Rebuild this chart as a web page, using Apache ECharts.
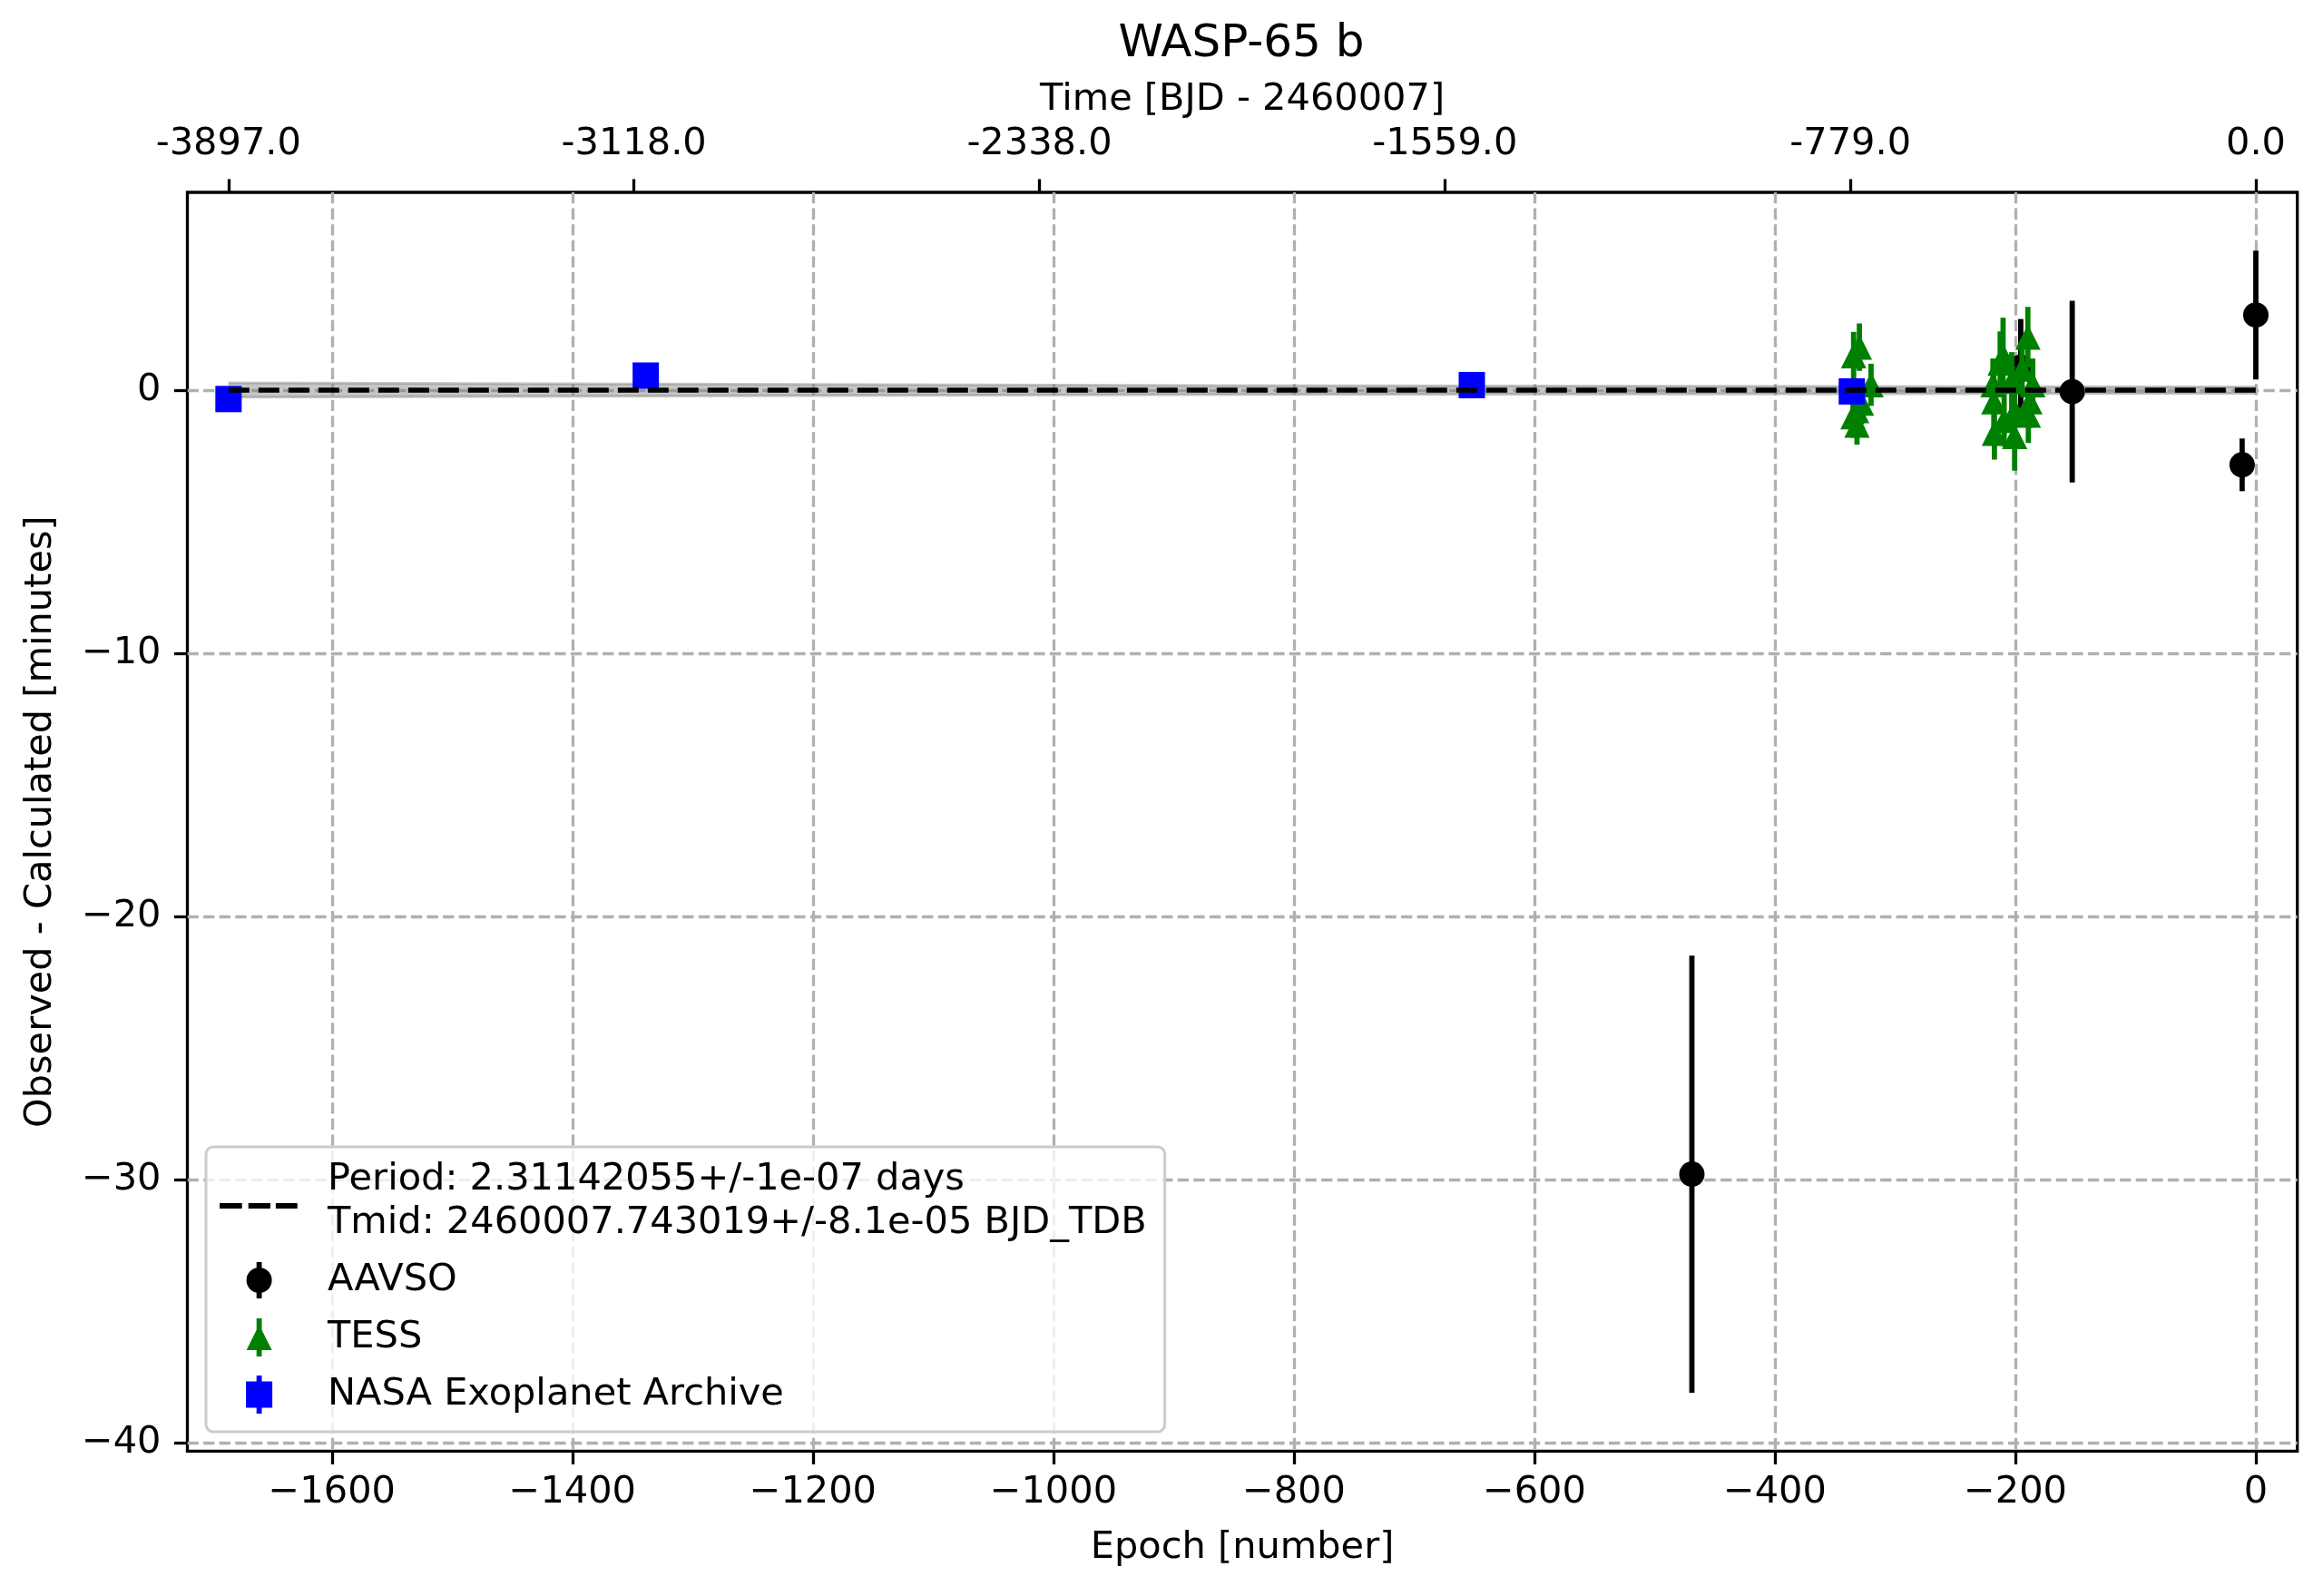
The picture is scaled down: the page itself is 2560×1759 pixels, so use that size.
<!DOCTYPE html>
<html>
<head>
<meta charset="utf-8">
<title>WASP-65 b</title>
<script src="https://cdn.jsdelivr.net/npm/echarts@6.0.0/dist/echarts.min.js"></script>
<style>
html, body { margin: 0; padding: 0; background: #fff; }
#main { width: 2560px; height: 1759px; }
</style>
</head>
<body>
<div id="main"></div>
<script>
// tick labels
var xTicks = [-1600, -1400, -1200, -1000, -800, -600, -400, -200, 0];
var yTicks = [-40, -30, -20, -10, 0];
var topTickEpochs = [-1686, -1348.8, -1011.6, -674.4, -337.2, 0];
var topTickLabels = ['-3897.0', '-3118.0', '-2338.0', '-1559.0', '-779.0', '0.0'];

// AAVSO
var aavsoEpoch = [-469, -195.5, -152.7, -11.4, 0];
var aavsoOC = [-29.78, 0.87, -0.06, -2.84, 2.85];
var aavsoErr = [8.3, 1.83, 3.45, 1.0, 2.45];

// TESS
var tessEpoch = [-334.5, -329.7, -320, -332, -328, -335, -331.7,
                 -218.6, -217.9, -217.4, -212.6, -210.2, -209.3, -203, -200.5, -200.6, -194.4, -189.6, -189.2, -188, -185.5];
var tessOC = [1.31, 1.63, 0.2, -0.78, -0.49, -1.01, -1.33,
              0.2, -0.44, -1.64, 1.03, 1.3, -1.15, 0.34, -0.8, -1.76, 0.8, 2.01, -0.95, -0.44, 0.2];
var tessErr = [0.9, 0.9, 0.8, 0.8, 0.8, 0.8, 0.74,
               1.0, 1.0, 1.0, 1.2, 1.45, 1.0, 1.1, 1.0, 1.3, 1.0, 1.15, 1.06, 1.0, 1.0];

// NASA Exoplanet Archive
var nasaEpoch = [-1686, -1339, -652, -336];
var nasaOC = [-0.34, 0.55, 0.19, -0.05];
var nasaErr = [0.2, 0.2, 0.2, 0.15];

// linear ephemeris and its uncertainty band
var modelEpoch = [-1686, 0];
var modelOC = [0, 0];
var bandEpoch = [-1686, -843, 0];
var bandUpper = [0.27, 0.17, 0.12];
var bandLower = [-0.27, -0.17, -0.12];

var modelName = 'Period: 2.31142055+/-1e-07 days\nTmid: 2460007.743019+/-8.1e-05 BJD_TDB';
var FONT = 'DejaVu Sans';

function minus(v) {
	return v < 0 ? '\u2212' + Math.abs(v) : String(v);
}

function zip3(a, b, c) {
	var out = [];
	for (var i = 0; i < a.length; i++) {
		out.push([a[i], b[i], c[i]]);
	}
	return out;
}

// error bar + marker
function errRender(shape) {
	return function (params, api) {
		var x = api.value(0), y = api.value(1), e = api.value(2);
		var c = api.coord([x, y]);
		var hi = api.coord([x, y + e]);
		var lo = api.coord([x, y - e]);
		var color = api.visual('color');
		var kids = [{
			type: 'line',
			shape: { x1: c[0], y1: hi[1], x2: c[0], y2: lo[1] },
			style: { stroke: color, lineWidth: 5.8 }
		}];
		if (shape === 'circle') {
			kids.push({ type: 'circle', shape: { cx: c[0], cy: c[1], r: 14 }, style: { fill: color } });
		} else if (shape === 'triangle') {
			kids.push({ type: 'polygon', shape: { points: [[c[0], c[1] - 14], [c[0] + 14, c[1] + 14], [c[0] - 14, c[1] + 14]] }, style: { fill: color } });
		} else {
			kids.push({ type: 'rect', shape: { x: c[0] - 14.5, y: c[1] - 14.5, width: 29, height: 29 }, style: { fill: color } });
		}
		return { type: 'group', children: kids };
	};
}

var myChart = echarts.init(document.getElementById('main'), null, { renderer: 'canvas' });

var option = {
	backgroundColor: '#fff',
	animation: false,
	textStyle: { fontFamily: FONT },
	title: {
		text: 'WASP-65 b',
		left: 1368,
		top: 24,
		padding: 0,
		textAlign: 'center',
		textStyle: { fontFamily: FONT, fontSize: 50, fontWeight: 'normal', color: '#000' }
	},
	grid: {
		left: 206.5, right: 28.3, top: 212, bottom: 159.7,
		show: true, borderColor: '#000', borderWidth: 3.3,
		containLabel: false,
		outerBoundsMode: 'none'
	},
	legend: {
		orient: 'vertical',
		left: 227, top: 1264,
		padding: [12, 20, 17, 15],
		itemGap: 15,
		itemWidth: 114, itemHeight: 42,
		selectedMode: false,
		backgroundColor: 'rgba(255,255,255,0.8)',
		borderColor: '#cccccc', borderWidth: 3, borderRadius: 8,
		itemStyle: { borderWidth: 0 },
		textStyle: { fontFamily: FONT, fontSize: 41.5, lineHeight: 48, color: '#000' },
		data: [
			{ name: modelName, icon: 'path://M0,0M114,42M0,23h24.7v6h-24.7zM31.7,23h24.3v6h-24.3zM61.9,23h23.8v6h-23.8z' },
			{ name: 'AAVSO', icon: 'path://M0,0M114,42M40.7,1h5.8v40h-5.8zM29.6,21a14,14 0 1,1 28,0a14,14 0 1,1 -28,0z' },
			{ name: 'TESS', icon: 'path://M0,0M114,42M40.7,0h5.8v42h-5.8zM43.6,7L57.6,35L29.6,35z' },
			{ name: 'NASA Exoplanet Archive', icon: 'path://M0,0M114,42M40.7,0h5.8v42h-5.8zM29.1,6.5h29v29h-29z' }
		]
	},
	xAxis: [{
		type: 'value',
		position: 'bottom',
		min: -1720.2, max: 34.5,
		name: 'Epoch [number]',
		nameLocation: 'middle',
		nameGap: 86,
		nameTextStyle: { fontFamily: FONT, fontSize: 41.5, color: '#000' },
		axisLine: { show: false, onZero: false },
		axisTick: { show: true, length: 14.6, customValues: xTicks, lineStyle: { color: '#000', width: 3.3 } },
		axisLabel: {
			customValues: xTicks, margin: 25, color: '#000',
			fontFamily: FONT, fontSize: 41.5,
			formatter: minus
		},
		splitLine: { show: true, lineStyle: { color: '#b0b0b0', width: 3.3, type: [12.3, 5.3] } }
	}, {
		type: 'value',
		position: 'top',
		min: -1720.2, max: 34.5,
		name: 'Time [BJD - 2460007]',
		nameLocation: 'middle',
		nameGap: 81,
		nameTextStyle: { fontFamily: FONT, fontSize: 41.5, color: '#000' },
		axisLine: { show: false, onZero: false },
		axisTick: { show: true, length: 14.6, customValues: topTickEpochs, lineStyle: { color: '#000', width: 3.3 } },
		axisLabel: {
			customValues: topTickEpochs, margin: 32, color: '#000',
			fontFamily: FONT, fontSize: 41.5,
			formatter: function (v) {
				var best = 0;
				for (var i = 1; i < topTickEpochs.length; i++) {
					if (Math.abs(topTickEpochs[i] - v) < Math.abs(topTickEpochs[best] - v)) best = i;
				}
				return topTickLabels[best];
			}
		},
		splitLine: { show: false }
	}],
	yAxis: {
		type: 'value',
		min: -40.3, max: 7.51,
		name: 'Observed - Calculated [minutes]',
		nameLocation: 'middle',
		nameGap: 140,
		nameRotate: 90,
		nameTextStyle: { fontFamily: FONT, fontSize: 41.5, color: '#000' },
		axisLine: { show: false, onZero: false },
		axisTick: { show: true, length: 14.6, customValues: yTicks, lineStyle: { color: '#000', width: 3.3 } },
		axisLabel: {
			customValues: yTicks, margin: 29, color: '#000',
			fontFamily: FONT, fontSize: 41.5,
			formatter: minus
		},
		splitLine: { show: true, lineStyle: { color: '#b0b0b0', width: 3.3, type: [12.3, 5.3] } }
	},
	series: [{
		type: 'custom',
		name: 'band',
		z: 1,
		silent: true,
		xAxisIndex: 0,
		data: zip3(bandEpoch, bandLower, bandUpper),
		encode: { x: 0, y: [1, 2] },
		renderItem: function (params, api) {
			if (params.dataIndex !== 0) return;
			var up = [], lo = [];
			for (var i = 0; i < bandEpoch.length; i++) {
				up.push(api.coord([bandEpoch[i], bandUpper[i]]));
				lo.push(api.coord([bandEpoch[i], bandLower[i]]));
			}
			var edge = { stroke: 'rgba(128,128,128,0.45)', lineWidth: 3, fill: null };
			return {
				type: 'group',
				children: [
					{ type: 'polygon', shape: { points: up.concat(lo.slice().reverse()) }, style: { fill: 'rgba(128,128,128,0.45)' } },
					{ type: 'polyline', shape: { points: up }, style: edge },
					{ type: 'polyline', shape: { points: lo }, style: edge }
				]
			};
		}
	}, {
		type: 'custom',
		name: 'AAVSO',
		z: 2,
		xAxisIndex: 0,
		itemStyle: { color: '#000000' },
		data: zip3(aavsoEpoch, aavsoOC, aavsoErr),
		encode: { x: 0, y: 1 },
		renderItem: errRender('circle')
	}, {
		type: 'custom',
		name: 'TESS',
		z: 3,
		xAxisIndex: 0,
		itemStyle: { color: '#008000' },
		data: zip3(tessEpoch, tessOC, tessErr),
		encode: { x: 0, y: 1 },
		renderItem: errRender('triangle')
	}, {
		type: 'custom',
		name: 'NASA Exoplanet Archive',
		z: 4,
		xAxisIndex: 0,
		itemStyle: { color: '#0000ff' },
		data: zip3(nasaEpoch, nasaOC, nasaErr),
		encode: { x: 0, y: 1 },
		renderItem: errRender('square')
	}, {
		type: 'line',
		name: modelName,
		z: 5,
		xAxisIndex: 0,
		symbol: 'none',
		color: '#000000',
		lineStyle: { color: '#000000', width: 5.5, type: [23, 10] },
		data: modelEpoch.map(function (e, i) { return [e, modelOC[i]]; })
	}]
};

myChart.setOption(option);
</script>
</body>
</html>
